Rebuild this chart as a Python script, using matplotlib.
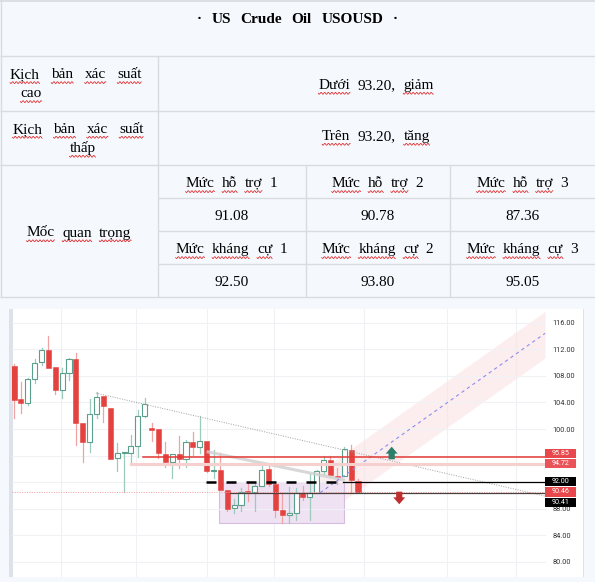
import numpy as np
import matplotlib
matplotlib.use("Agg")
import matplotlib.pyplot as plt
from matplotlib.patches import Rectangle
from matplotlib.transforms import blended_transform_factory

# ---- table content ----
title_words = ["·", "US", "Crude", "Oil", "USOUSD", "·"]
scenario_hi = ["Kịch", "bản", "xác", "suất"]
scenario_hi_2 = ["cao"]
scenario_hi_txt = ["Dưới", "93.20,", "giảm"]
scenario_lo = ["Kịch", "bản", "xác", "suất"]
scenario_lo_2 = ["thấp"]
scenario_lo_txt = ["Trên", "93.20,", "tăng"]
key_label = ["Mốc", "quan", "trọng"]
support_names = ["Mức hỗ trợ 1", "Mức hỗ trợ 2", "Mức hỗ trợ 3"]
support_vals = ["91.08", "90.78", "87.36"]
resist_names = ["Mức kháng cự 1", "Mức kháng cự 2", "Mức kháng cự 3"]
resist_vals = ["92.50", "93.80", "95.05"]

# ---- candles (daily) ----
opens = [109.5, 104.5, 103.9, 107.5, 110.1, 111.9, 109.4, 105.9, 108.4, 110.5,
         100.9, 98.1, 102.2, 104.9, 103.2, 95.6, 96.35, 96.4, 97.5, 102.0,
         100.1, 99.95, 96.2, 95.0, 96.2, 95.5, 98.1, 97.25, 98.25, 93.7,
         93.85, 90.8, 88.1, 88.5, 90.7, 90.5, 91.4, 94.0, 91.8, 87.8,
         87.1, 87.35, 90.4, 89.8, 90.4, 93.7, 95.3, 93.0, 92.9, 96.85, 92.2]
highs = [109.8, 107.0, 107.6, 110.5, 112.2, 114.0, 109.4, 109.2, 110.7, 111.4,
         100.9, 104.5, 105.5, 104.9, 103.2, 97.9, 96.6, 99.1, 102.9, 104.6,
         100.85, 99.95, 98.0, 96.3, 98.9, 98.35, 99.6, 102.0, 98.25, 96.8,
         96.35, 90.8, 89.5, 91.1, 92.1, 92.1, 94.8, 94.9, 92.1, 90.4,
         91.3, 91.1, 91.4, 93.3, 93.8, 95.9, 96.0, 94.1, 97.3, 97.6, 92.5]
lows = [101.7, 102.4, 103.6, 106.9, 109.7, 109.2, 105.3, 104.6, 107.3, 97.6,
        95.1, 96.6, 101.6, 101.0, 95.5, 93.7, 90.6, 94.6, 95.8, 101.8,
        98.2, 95.6, 94.3, 92.7, 94.1, 94.3, 96.1, 96.35, 93.6, 92.6,
        90.8, 87.7, 87.4, 87.6, 89.1, 87.6, 91.4, 91.5, 86.8, 85.8,
        85.8, 86.3, 89.3, 86.3, 90.4, 93.3, 93.1, 91.8, 92.9, 90.6, 90.4]
closes = [104.4, 103.9, 107.5, 110.0, 111.9, 109.2, 105.9, 108.4, 110.6, 100.9,
          98.1, 102.2, 104.8, 103.4, 95.5, 96.35, 96.45, 97.5, 102.0, 103.8,
          99.85, 96.4, 95.0, 96.2, 95.5, 98.1, 97.25, 98.25, 93.7, 93.85,
          90.8, 88.0, 88.5, 90.6, 90.5, 91.4, 93.9, 91.8, 87.8, 87.1,
          87.35, 90.4, 89.8, 90.4, 93.7, 95.3, 93.1, 92.8, 96.95, 92.3, 90.4]

price_ticks = [80, 84, 88, 92, 96, 100, 104, 108, 112, 116]
hidden_ticks = [92, 96]   # covered by the price tags
vgrid_idx = [6.8, 17.8, 28.0, 37.8, 50.9, 62.9, 72.9]

# drawings
dotted_trend = ([11.9, 77.2], [105.4, 89.9])
gray_trend = ([28.0, 48.1], [96.6, 92.3])
channel_x = [44.5, 77.2]
channel_mid = [90.42, 114.39]
channel_up, channel_dn = 3.3, 3.7
zone = (29.8, 47.97, 85.82, 92.08)
res_red, res_red_from = 95.85, 18.8
res_pink, res_pink_from = 94.72, 16.96
sup_black, sup_dash_from, sup_dash_to = 92.00, 27.86, 47.8
cur_price = 90.46
dark_lvl, dark_from = 90.41, 31.4
up_arrow = (54.9, 95.44, 97.34)    # x, base, tip
down_arrow = (56.0, 90.57, 88.68)
price_tags = [("95.85", 96.34, "#e8474c"), ("94.72", 94.84, "#ea5357"),
              ("92.00", 92.08, "#000000"), ("90.46", 90.53, "#e8474c"),
              ("90.41", 88.95, "#000000")]

RED = "#e4423f"
GREEN = "#5a9f8b"

W, H = 595, 582
fig = plt.figure(figsize=(W / 100, H / 100), dpi=100, facecolor="#f5f9fe")
tab = fig.add_axes([0, 0, 1, 1])
tab.set_xlim(0, W)
tab.set_ylim(H, 0)
tab.axis("off")
renderer = fig.canvas.get_renderer()

border = "#d8dbe0"


def hline(y, x0, x1):
    tab.plot([x0, x1], [y, y], color=border, lw=1.0, solid_capstyle="butt")


def vline(x, y0, y1):
    tab.plot([x, x], [y0, y1], color=border, lw=1.0, solid_capstyle="butt")


def squiggle(x0, x1, y):
    xs = np.arange(x0, x1, 0.4)
    ys = y + 0.9 * np.sin(2 * np.pi * (xs - x0) / 3.6)
    tab.plot(xs, ys, color="#e01e1e", lw=0.55)


def words(ws, y, x=None, span=None, gap=7.5, bold=False, wavy=True):
    objs = [tab.text(0, y, w, fontsize=11, family="Liberation Serif",
                     fontweight="bold" if bold else "normal",
                     va="baseline", ha="left", color="black") for w in ws]
    widths = [o.get_window_extent(renderer).width for o in objs]
    if span is not None:
        x0 = span[0]
        g = (span[1] - span[0] - sum(widths)) / max(len(ws) - 1, 1)
    else:
        g = gap
        x0 = x - (sum(widths) + g * (len(ws) - 1)) / 2
    cur = x0
    for o, w, wd in zip(objs, ws, widths):
        o.set_x(cur)
        if wavy and any(c.isalpha() for c in w):
            squiggle(cur, cur + wd, y + 4.3)
        cur += wd + g


# table frame
tab.add_patch(Rectangle((0, 0), W, 2, color="#dedfe2", lw=0))
vline(0.5, 0, 297)
for y in [56, 111, 165, 297]:
    hline(y, 0, W)
for y in [198, 231, 264]:
    hline(y, 157.5, W)
vline(157.5, 56, 297)
vline(305.5, 165, 297)
vline(449.7, 165, 297)

words(title_words, 23.3, x=297.5, gap=9.5, bold=True, wavy=False)
words(scenario_hi, 78.3, span=(10, 141.6))
words(scenario_hi_2, 97.3, x=31)
words(scenario_hi_txt, 89, x=376)
words(scenario_lo, 133, span=(12.5, 143.5))
words(scenario_lo_2, 152, x=82.6)
words(scenario_lo_txt, 140, x=376)
words(key_label, 236.5, x=79)
col_c = [231.5, 377.6, 522.4]
for i in range(3):
    words(support_names[i].split(), 187.3, x=col_c[i])
    words([support_vals[i]], 220, x=col_c[i])
    words(resist_names[i].split(), 253.3, x=col_c[i])
    words([resist_vals[i]], 286.3, x=col_c[i])

# chart panel
tab.add_patch(Rectangle((12.7, 309), 582.5 - 12.7, 577 - 309, color="white", lw=0))
tab.add_patch(Rectangle((9.3, 309), 3.4, 577 - 309, color="#dde1ea", lw=0))
tab.add_patch(Rectangle((582.5, 309), 1.8, 577 - 309, color="#dde1ea", lw=0))

ax = fig.add_axes([12 / W, 5 / H, 534 / W, 268 / H])
ax.patch.set_visible(False)
ax.set_xlim(-0.29, 77.33)
ax.set_ylim(77.74, 118.05)
for s in ax.spines.values():
    s.set_visible(False)
ax.set_xticks([])
ax.yaxis.tick_right()
ax.set_yticks(price_ticks)
ax.set_yticklabels(["" if p in hidden_ticks else f"{p:.2f}" for p in price_ticks])
ax.tick_params(axis="y", length=0, pad=4.5, labelsize=5.3, labelcolor="#333333")
for lab in ax.get_yticklabels():
    lab.set_family("Roboto")
ax.grid(axis="y", color="#eff1f5", lw=0.8)
for v in vgrid_idx:
    ax.axvline(v, color="#eff1f5", lw=0.8, zorder=0)

# channel + zone
cx = np.array(channel_x)
cm = np.array(channel_mid)
ax.fill_between(cx, cm - channel_dn, cm + channel_up, color="#fbe3e3", alpha=0.6, lw=0, zorder=1)
ax.add_patch(Rectangle((zone[0], zone[2]), zone[1] - zone[0], zone[3] - zone[2],
                       facecolor="#efe2f3", edgecolor="#d6bde0", lw=0.8, zorder=1))

# candles
bw = 0.74
for i, (o, h, l, c) in enumerate(zip(opens, highs, lows, closes)):
    up = c >= o
    col = GREEN if up else RED
    wick = "#9ccbbc" if up else "#f0a3a3"
    ax.plot([i, i], [l, min(o, c)], color=wick, lw=0.9, zorder=2)
    ax.plot([i, i], [max(o, c), h], color=wick, lw=0.9, zorder=2)
    bot, ht = min(o, c), max(abs(c - o), 0.12)
    if up:
        ax.add_patch(Rectangle((i - bw / 2, bot), bw, ht, facecolor="white",
                               edgecolor=col, lw=0.8, zorder=3))
    else:
        ax.add_patch(Rectangle((i - bw / 2, bot), bw, ht, facecolor=col,
                               edgecolor=col, lw=0.4, zorder=3))

# lines
end = 77.33
ax.plot(*dotted_trend, color="#a0a0a0", lw=0.7, ls=(0, (1, 1.5)), zorder=4)
ax.plot(*gray_trend, color="#cfcfcf", lw=2.2, alpha=0.8, zorder=4, solid_capstyle="butt")
ax.plot(cx, cm, color="#8c8cf0", lw=0.8, ls=(0, (3, 3)), zorder=4)
ax.plot([res_pink_from, end], [res_pink] * 2, color="#f6cfcf", lw=2.2, zorder=4)
ax.plot([res_red_from, end], [res_red] * 2, color="#e53935", lw=1.1, zorder=5)
ax.plot([-0.29, end], [cur_price] * 2, color="#f2a0a0", lw=0.7, ls=(0, (1, 1.5)), zorder=4)
ax.plot([dark_from, end], [dark_lvl] * 2, color="#4a4040", lw=0.9, zorder=5)
ax.plot([sup_dash_from, sup_dash_to], [sup_black] * 2, color="black", lw=1.8,
        ls=(0, (4, 4)), zorder=5, solid_capstyle="butt")
ax.plot([sup_dash_to, end], [sup_black] * 2, color="black", lw=0.9, zorder=5)

# arrows
def arrow(x, base, tip, color):
    d = tip - base
    hw, sw = 0.87, 0.45
    mid = base + d * 0.45
    xs = [x - sw, x - sw, x - hw, x, x + hw, x + sw, x + sw]
    ys = [base, mid, mid, tip, mid, mid, base]
    ax.fill(xs, ys, color=color, lw=0, zorder=6)


arrow(*up_arrow, "#2b7f6b")
arrow(*down_arrow, "#bf2f2f")

# price tags
tr = blended_transform_factory(ax.transAxes, ax.transData)
for txt, y, col in price_tags:
    ax.add_patch(Rectangle((0.998, y - 0.72), 0.058, 1.44, transform=tr,
                           facecolor=col, edgecolor="none", clip_on=False, zorder=10))
    ax.text(1.027, y, txt, transform=tr, ha="center", va="center", color="white",
            fontsize=5.1, family="Roboto", zorder=11, clip_on=False)

fig.savefig("out.png", dpi=100, facecolor=fig.get_facecolor())
